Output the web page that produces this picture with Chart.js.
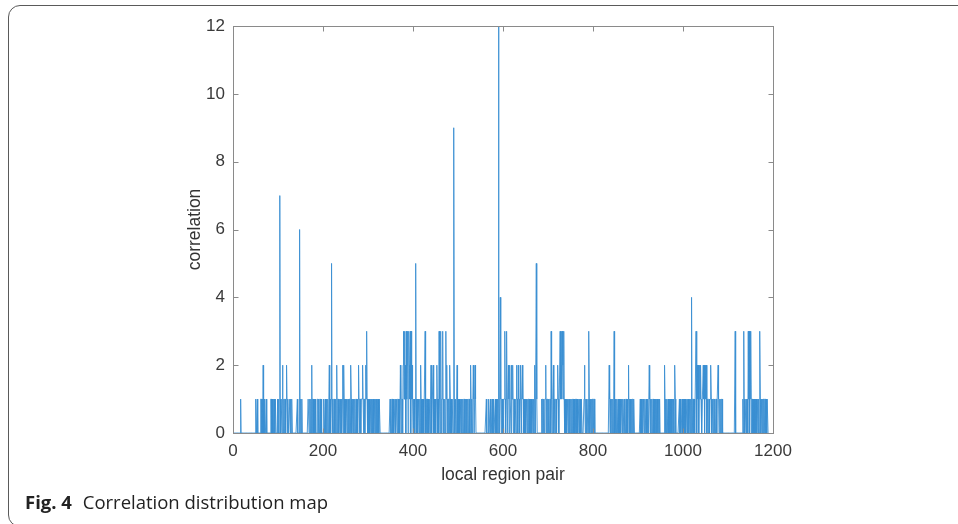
<!DOCTYPE html>
<html>
<head>
<meta charset="utf-8">
<script src="https://cdn.jsdelivr.net/npm/chart.js@4.4.1/dist/chart.umd.min.js"></script>
<style>
  html, body { margin: 0; padding: 0; background: #fff; width: 958px; height: 524px; overflow: hidden; }
  .frame { position: absolute; left: 8px; top: 5px; width: 1000px; height: 522px; border: 1.5px solid #5a5a5a; border-radius: 12px; box-sizing: border-box; }
  #chartCorr { position: absolute; left: 0; top: 0; }
  .caption { position: absolute; left: 25px; top: 489px; font-family: "Open Sans", "Noto Sans", sans-serif; font-size: 18.5px; color: #222; white-space: nowrap; }
  .caption b { font-weight: 700; margin-right: 6px; }
</style>
</head>
<body>
<div class="frame"></div>
<canvas id="chartCorr" width="958" height="524"></canvas>
<div class="caption"><b>Fig. 4</b> Correlation distribution map</div>
<script>
// correlation value for each local region pair in blocks of 200
const pairs1to200 = [
  0,0,0,0,0,0,0,0,0,0, 0,0,0,0,0,0,1,0,0,0, 0,0,0,0,0,0,0,0,0,0, 0,0,0,0,0,0,0,0,0,0,
  0,0,0,0,0,0,0,0,0,0, 1,0,0,1,0,0,0,0,0,0, 0,1,1,0,1,0,2,0,1,1, 0,0,0,1,0,0,0,0,0,0,
  0,0,0,1,1,0,1,0,0,1, 0,1,0,1,1,0,0,0,1,0, 1,0,0,7,1,0,1,1,0,2, 1,0,1,0,1,1,0,1,2,1,
  0,1,0,0,1,1,0,1,0,1, 1,0,0,0,0,0,0,0,0,0, 0,0,1,0,0,0,0,6,0,1, 1,0,1,0,0,0,0,0,0,0,
  0,0,0,0,0,0,1,1,0,1, 1,0,1,0,2,0,1,1,0,1, 0,0,1,0,0,0,0,1,1,0, 1,0,1,1,0,1,0,0,0,0
];
const pairs201to400 = [
  0,1,0,0,1,0,0,1,0,1, 1,0,1,2,0,1,0,1,5,1, 0,1,0,1,1,0,0,1,0,1, 2,0,1,1,0,1,1,0,1,0,
  1,0,1,2,0,2,1,0,1,0, 0,1,1,0,1,0,1,0,1,1, 0,2,1,0,1,1,0,1,0,1, 1,0,1,1,0,1,0,1,2,1,
  0,1,1,0,1,1,1,2,1,0, 1,1,0,1,2,1,3,1,0,1, 1,0,1,0,1,1,0,1,0,1, 0,1,0,1,1,0,1,0,1,0,
  1,0,1,0,1,1,0,0,0,0, 0,0,0,0,0,0,0,0,0,0, 0,0,0,0,0,0,0,0,1,0, 1,0,1,1,0,1,0,1,1,0,
  1,0,1,1,0,1,1,0,1,1, 0,2,1,0,1,1,0,2,3,1, 3,1,2,0,3,1,2,3,0,1, 3,2,1,3,0,3,1,2,1,0
];
const pairs401to600 = [
  1,0,1,0,1,5,1,0,1,1, 0,1,1,0,1,0,2,1,0,1, 1,0,1,0,1,1,3,0,1,0, 1,1,0,1,0,1,1,0,1,2,
  1,0,1,1,2,0,1,0,1,1, 0,1,2,1,0,1,0,3,1,0, 1,3,0,1,1,3,0,1,0,1, 1,0,3,1,2,0,1,0,1,1,
  0,2,1,0,1,0,1,1,0,1, 9,1,0,1,1,0,1,2,0,1, 1,0,1,0,1,1,0,1,0,0, 1,0,1,1,0,0,1,0,1,0,
  0,1,0,1,1,0,0,2,1,0, 1,0,1,2,1,0,0,2,1,0, 0,0,0,0,0,0,0,0,0,0, 0,0,0,0,0,0,0,0,0,0,
  0,0,1,0,0,0,0,1,0,0, 0,1,0,0,0,1,0,0,1,0, 0,0,1,0,1,0,0,1,0,12, 1,0,0,4,1,0,1,1,0,1
];
const pairs601to800 = [
  0,1,1,3,1,0,1,3,1,0, 1,2,1,0,2,1,1,0,2,1, 1,2,0,1,1,0,1,1,0,2, 1,1,0,2,1,1,0,1,2,1,
  0,1,2,1,1,0,1,0,1,1, 0,1,1,0,1,0,1,1,0,1, 1,0,1,0,1,1,0,1,0,2, 1,0,0,5,1,0,0,0,0,0,
  0,0,0,0,0,1,0,1,1,0, 1,0,1,1,2,0,1,0,1,1, 0,1,0,1,1,0,3,1,0,1, 1,2,0,1,1,0,1,1,0,1,
  1,2,1,0,1,1,3,1,2,3, 1,3,2,1,3,1,0,1,0,1, 1,0,1,1,0,1,0,1,0,1, 1,0,1,0,1,1,0,1,0,1,
  0,1,1,0,1,0,1,1,0,1, 0,1,0,1,1,0,0,0,0,1, 2,1,0,1,0,1,0,0,1,0, 3,1,0,1,1,0,1,0,1,1
];
const pairs801to1000 = [
  0,1,1,0,0,0,0,0,0,0, 0,0,0,0,0,0,0,0,0,0, 0,0,0,0,0,0,0,0,0,0, 0,0,0,0,0,2,1,0,1,0,
  1,1,0,1,0,1,3,0,1,0, 1,0,1,0,0,1,0,1,0,1, 1,0,1,1,0,1,0,0,1,0, 1,0,1,1,0,1,0,1,2,0,
  1,0,1,0,0,1,0,1,1,0, 1,0,0,0,0,0,0,0,0,0, 0,0,0,0,1,0,1,0,0,1, 0,1,1,0,1,0,0,1,0,1,
  0,1,0,0,2,1,0,1,0,0, 1,0,1,1,0,1,0,0,1,0, 1,0,1,0,0,1,0,1,0,0, 0,0,0,0,0,0,0,0,2,1,
  0,1,0,1,0,0,1,0,1,1, 0,1,0,1,0,0,1,0,1,0, 1,2,1,0,0,0,0,0,0,0, 0,1,0,1,0,0,0,1,0,1
];
const pairs1001to1190 = [
  0,0,1,0,1,0,1,1,0,1, 0,1,0,1,1,0,1,0,4,1, 0,1,1,0,1,0,1,1,3,1, 0,2,1,2,0,1,2,1,2,1,
  1,0,1,1,2,1,2,0,2,1, 1,2,0,1,1,0,1,1,0,1, 1,2,1,0,1,1,0,1,1,0, 1,0,1,1,0,1,1,2,1,0,
  1,1,0,1,0,1,1,0,0,0, 0,0,0,0,0,0,0,0,0,0, 0,0,0,0,0,0,0,0,0,0, 0,0,0,0,0,3,0,0,0,0,
  0,0,0,0,0,0,0,0,0,0, 0,0,1,0,3,1,0,1,1,0, 1,0,1,0,3,1,3,0,3,1, 3,0,1,1,0,1,0,1,0,1,
  1,0,1,0,1,1,0,1,0,1, 3,1,0,1,1,0,1,0,1,1, 0,1,1,0,1,0,1,1,0,0
];

const xTicks = [0, 200, 400, 600, 800, 1000, 1200];
const yTicks = [0, 2, 4, 6, 8, 10, 12];

const correlation = [].concat(pairs1to200, pairs201to400, pairs401to600,
  pairs601to800, pairs801to1000, pairs1001to1190);
const points = correlation.map((v, i) => ({ x: i + 1, y: v }));

const chartCorr = document.querySelector('#chartCorr').getContext('2d');

// matlab style box with inward ticks on all four sides
const boxPlugin = {
  id: 'box',
  afterDraw(chart) {
    const { ctx, chartArea: a, scales } = chart;
    const L = Math.round(a.left) + 0.5, R = Math.round(a.right) + 0.5;
    const T = Math.round(a.top) + 0.5, B = Math.round(a.bottom) + 0.5;
    ctx.save();
    ctx.strokeStyle = '#8a8a8a';
    ctx.lineWidth = 1;
    ctx.strokeRect(L, T, R - L, B - T);
    ctx.beginPath();
    xTicks.forEach(t => {
      const px = Math.round(scales.x.getPixelForValue(t)) + 0.5;
      ctx.moveTo(px, B); ctx.lineTo(px, B - 5);
      ctx.moveTo(px, T); ctx.lineTo(px, T + 5);
    });
    yTicks.forEach(t => {
      const py = Math.round(scales.y.getPixelForValue(t)) + 0.5;
      ctx.moveTo(L, py); ctx.lineTo(L + 5, py);
      ctx.moveTo(R, py); ctx.lineTo(R - 5, py);
    });
    ctx.stroke();
    ctx.restore();
  }
};

const fontFam = '"Liberation Sans", Arial, sans-serif';
const tickFont = { family: fontFam, size: 17 };

new Chart(chartCorr, {
  type: 'line',
  data: {
    datasets: [{
      data: points,
      borderColor: '#3a8fd2',
      borderWidth: 0.9,
      pointRadius: 0,
      tension: 0,
      fill: false
    }]
  },
  options: {
    responsive: false,
    animation: false,
    events: [],
    layout: { padding: { left: 185, top: 26, right: 185, bottom: 38 } },
    plugins: { legend: { display: false }, tooltip: { enabled: false } },
    scales: {
      x: {
        type: 'linear',
        min: 0,
        max: 1200,
        grid: { display: false, drawTicks: false },
        border: { display: false },
        afterFit: s => { s.height = 53; },
        afterBuildTicks: s => { s.ticks = xTicks.map(v => ({ value: v })); },
        ticks: { font: tickFont, color: '#3a3a3a', padding: 8, maxRotation: 0, callback: v => String(v) },
        title: { display: true, text: 'local region pair', font: { family: fontFam, size: 17.5 }, color: '#333', padding: 0 }
      },
      y: {
        min: 0,
        max: 12,
        grid: { display: false, drawTicks: false },
        border: { display: false },
        afterFit: s => { s.width = 48; },
        afterBuildTicks: s => { s.ticks = yTicks.map(v => ({ value: v })); },
        ticks: { font: tickFont, color: '#3a3a3a', padding: 8, callback: v => String(v) },
        title: { display: true, text: 'correlation', font: { family: fontFam, size: 17.5 }, color: '#333', padding: 0 }
      }
    }
  },
  plugins: [boxPlugin]
});
</script>
</body>
</html>
